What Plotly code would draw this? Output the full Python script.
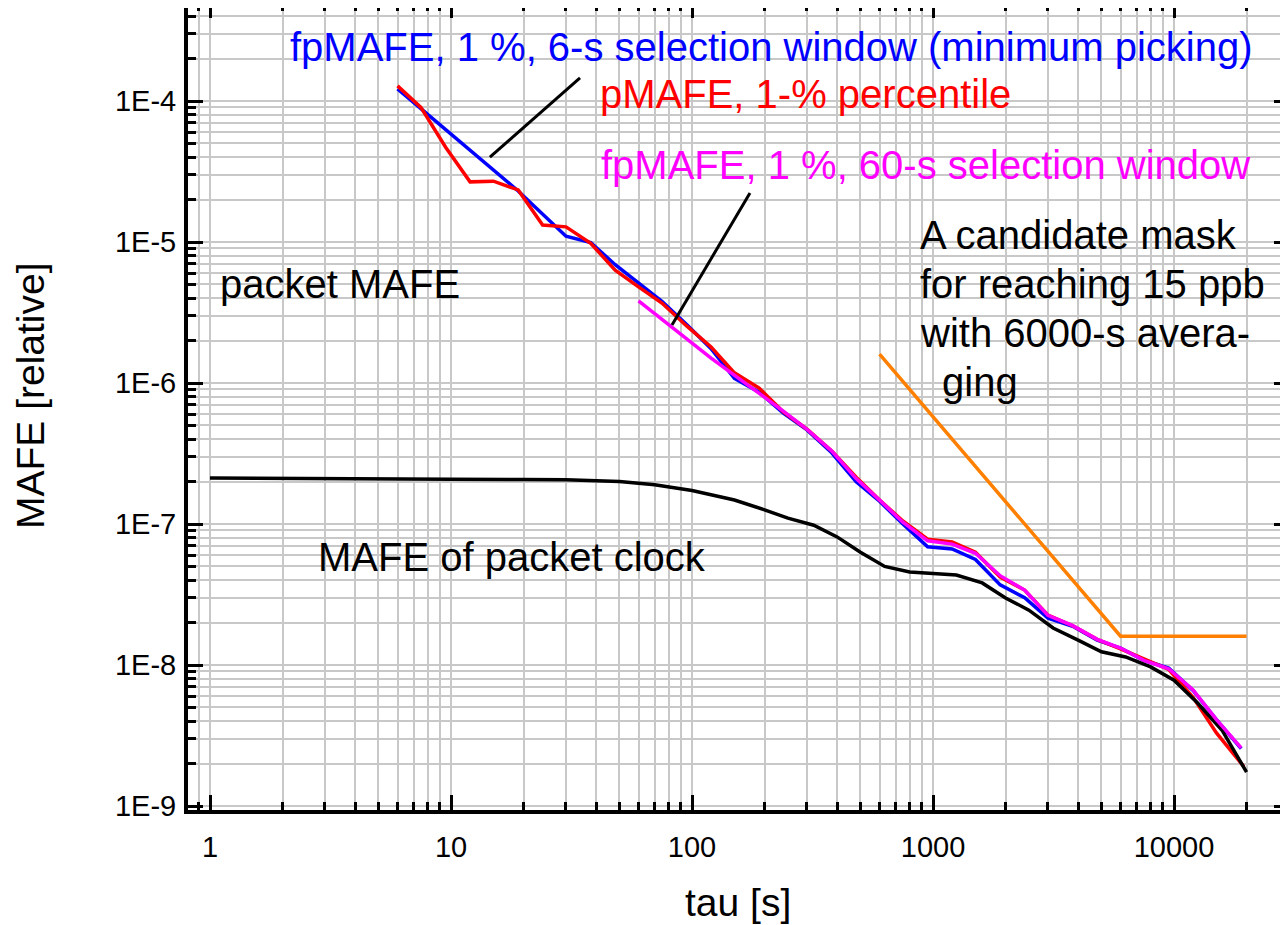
import plotly.graph_objects as go

# ---------------- data ----------------
tau_clock = [1, 2, 5, 10, 20, 30, 50, 70, 100, 150, 200, 250, 320, 400, 500, 630, 800,
             1000, 1250, 1600, 2000, 2500, 3150, 4000, 5000, 6300, 8000, 10000, 12500, 15800, 20000]
mafe_clock = [2.12e-7, 2.10e-7, 2.09e-7, 2.08e-7, 2.07e-7, 2.06e-7, 2.0e-7, 1.9e-7, 1.73e-7, 1.48e-7,
              1.26e-7, 1.10e-7, 9.8e-8, 8.1e-8, 6.3e-8, 5.0e-8, 4.57e-8, 4.45e-8, 4.35e-8, 3.82e-8,
              2.99e-8, 2.45e-8, 1.83e-8, 1.50e-8, 1.24e-8, 1.14e-8, 9.7e-9, 7.8e-9, 5.4e-9, 3.46e-9, 1.74e-9]

tau_red = [6, 7.5, 9.5, 12, 15, 19, 24, 30, 38, 48, 60, 75, 95, 120, 150, 190, 240, 300, 380, 480,
           600, 750, 950, 1200, 1500, 1900, 2400, 3000, 3800, 4800, 6000, 7500, 9500, 12000, 15000, 19500]
mafe_red = [1.28e-4, 9.0e-5, 4.7e-5, 2.67e-5, 2.7e-5, 2.34e-5, 1.32e-5, 1.28e-5, 9.8e-6, 6.3e-6,
            4.8e-6, 3.69e-6, 2.54e-6, 1.8e-6, 1.18e-6, 9.2e-7, 6.2e-7, 4.7e-7, 3.3e-7, 2.15e-7,
            1.48e-7, 1.05e-7, 7.8e-8, 7.45e-8, 6.3e-8, 4.2e-8, 3.4e-8, 2.26e-8, 1.9e-8, 1.52e-8,
            1.3e-8, 1.1e-8, 9.3e-9, 5.9e-9, 3.3e-9, 1.9e-9]

tau_blue = [6, 19, 30, 38, 48, 60, 75, 95, 120, 150, 190, 240, 300, 380, 480, 600, 750, 950,
            1200, 1500, 1900, 2400, 3000, 3800, 4800, 6000, 7500, 9500, 12000, 15000, 19000]
mafe_blue = [1.22e-4, 2.3e-5, 1.10e-5, 9.9e-6, 6.9e-6, 5.1e-6, 3.8e-6, 2.6e-6, 1.75e-6, 1.08e-6,
             8.6e-7, 6.1e-7, 4.65e-7, 3.2e-7, 1.99e-7, 1.45e-7, 1.0e-7, 6.9e-8, 6.65e-8, 5.6e-8,
             3.7e-8, 3.0e-8, 2.15e-8, 1.88e-8, 1.5e-8, 1.32e-8, 1.08e-8, 9.5e-9, 6.6e-9, 4.1e-9, 2.55e-9]

tau_mag = [60, 120, 240, 300, 380, 480, 600, 750, 950, 1200, 1500, 1900, 2400, 3000, 3800, 4800,
           6000, 7500, 9500, 12000, 15000, 19000]
mafe_mag = [3.82e-6, 1.5e-6, 6.3e-7, 4.7e-7, 3.3e-7, 2.1e-7, 1.48e-7, 1.03e-7, 7.6e-8, 7.2e-8,
            6.2e-8, 4.3e-8, 3.4e-8, 2.25e-8, 1.9e-8, 1.52e-8, 1.32e-8, 1.08e-8, 9.4e-9, 6.65e-9,
            4.1e-9, 2.58e-9]

tau_mask = [600, 6000, 20000]
mafe_mask = [1.6e-6, 1.6e-8, 1.6e-8]

# pointer lines of the labels
ptr1_tau = [34.3, 14.5]
ptr1_val = [1.46e-4, 4.0e-5]
ptr2_tau = [174, 82.6]
ptr2_val = [2.23e-5, 2.58e-6]

x_tickvals = [1, 10, 100, 1000, 10000]
x_ticktext = ["1", "10", "100", "1000", "10000"]
y_tickvals = [1e-9, 1e-8, 1e-7, 1e-6, 1e-5, 1e-4]
y_ticktext = ["1E-9", "1E-8", "1E-7", "1E-6", "1E-5", "1E-4"]

# ---------------- layout geometry ----------------
W, H = 1280, 925
L, R, T, B = 188, 0, 8, 115
PW, PH = W - L - R, H - T - B
DEC_X, DEC_Y = 241.0, 141.0
X1_PX, YM4_PX = 210.0, 101.0
xr = [-(X1_PX - L) / DEC_X, (W - R - X1_PX) / DEC_X]
yr = [-4 - (H - B - YM4_PX) / DEC_Y, -4 + (YM4_PX - T) / DEC_Y]

FONT = "Liberation Sans, Arial, Helvetica, sans-serif"
GRID = "#c8c8c8"


def pxx(x):
    return (x - L) / PW


def pxy(y):
    return (H - B - y) / PH


fig = go.Figure()

lw = 3.5
fig.add_trace(go.Scatter(x=tau_blue, y=mafe_blue, mode="lines", line=dict(color="#0000ff", width=lw)))
fig.add_trace(go.Scatter(x=tau_red, y=mafe_red, mode="lines", line=dict(color="#ff0000", width=lw)))
fig.add_trace(go.Scatter(x=tau_clock, y=mafe_clock, mode="lines", line=dict(color="#000000", width=lw)))
fig.add_trace(go.Scatter(x=tau_mag, y=mafe_mag, mode="lines", line=dict(color="#ff00ff", width=lw)))
fig.add_trace(go.Scatter(x=tau_mask, y=mafe_mask, mode="lines", line=dict(color="#ff8000", width=lw)))
fig.add_trace(go.Scatter(x=ptr1_tau, y=ptr1_val, mode="lines", line=dict(color="#000000", width=3)))
fig.add_trace(go.Scatter(x=ptr2_tau, y=ptr2_val, mode="lines", line=dict(color="#000000", width=3)))
# carriers for the mirrored top / right tick axes
fig.add_trace(go.Scatter(x=[None], y=[None], xaxis="x2", yaxis="y", hoverinfo="skip"))
fig.add_trace(go.Scatter(x=[None], y=[None], xaxis="x", yaxis="y2", hoverinfo="skip"))

tickfont = dict(family=FONT, size=29, color="black")

fig.update_layout(
    width=W, height=H, margin=dict(l=L, r=R, t=T, b=B, autoexpand=False),
    paper_bgcolor="white", plot_bgcolor="white", showlegend=False,
    xaxis=dict(type="log", range=xr, tickmode="array", tickvals=x_tickvals, ticktext=x_ticktext,
               ticks="inside", ticklen=15, tickwidth=3, tickcolor="black",
               showline=True, linewidth=4, linecolor="black", mirror=False,
               showgrid=True, gridcolor=GRID, gridwidth=1.5, zeroline=False,
               tickfont=tickfont, ticklabelstandoff=8,
               minor=dict(dtick="D1", ticks="inside", ticklen=8, tickwidth=3, tickcolor="black",
                          showgrid=True, gridcolor=GRID, gridwidth=1.5)),
    yaxis=dict(type="log", range=yr, tickmode="array", tickvals=y_tickvals, ticktext=y_ticktext,
               ticks="inside", ticklen=15, tickwidth=3, tickcolor="black",
               showline=True, linewidth=4, linecolor="black", mirror=False,
               showgrid=True, gridcolor=GRID, gridwidth=1.5, zeroline=False,
               tickfont=tickfont, ticklabelstandoff=2,
               minor=dict(dtick="D1", ticks="inside", ticklen=8, tickwidth=3, tickcolor="black",
                          showgrid=True, gridcolor=GRID, gridwidth=1.5)),
    xaxis2=dict(type="log", range=xr, overlaying="x", side="top", anchor="y",
                tickmode="array", tickvals=x_tickvals, showticklabels=False,
                ticks="inside", ticklen=10, tickwidth=3, tickcolor="black",
                showline=False, showgrid=False, zeroline=False,
                minor=dict(dtick="D1", ticks="inside", ticklen=3, tickwidth=3, tickcolor="black",
                           showgrid=False)),
    yaxis2=dict(type="log", range=yr, overlaying="y", side="right", anchor="x",
                tickmode="array", tickvals=y_tickvals, showticklabels=False,
                ticks="inside", ticklen=6, tickwidth=3, tickcolor="black",
                showline=False, showgrid=False, zeroline=False),
)

labels = [
    ("fpMAFE, 1 %, 6-s selection window (minimum picking)", "#0000ff", 288, 47),
    ("pMAFE, 1-% percentile", "#ff0000", 598, 94),
    ("fpMAFE, 1 %, 60-s selection window", "#ff00ff", 599, 165),
    ("packet MAFE", "black", 218, 284),
    ("MAFE of packet clock", "black", 316, 557),
    ("A candidate mask", "black", 918, 235),
    ("for reaching 15 ppb", "black", 918, 284),
    ("with 6000-s avera-", "black", 918, 333),
    ("ging", "black", 940, 382),
]
for text, color, x, y in labels:
    fig.add_annotation(text=text, xref="paper", yref="paper", x=pxx(x), y=pxy(y),
                       xanchor="left", yanchor="middle", showarrow=False,
                       font=dict(family=FONT, size=40, color=color))

fig.add_annotation(text="tau [s]", xref="paper", yref="paper", x=pxx(738), y=pxy(902),
                   xanchor="center", yanchor="middle", showarrow=False,
                   font=dict(family=FONT, size=39, color="black"))
fig.add_annotation(text="MAFE [relative]", xref="paper", yref="paper", x=pxx(30), y=pxy(395),
                   xanchor="center", yanchor="middle", showarrow=False, textangle=-90,
                   font=dict(family=FONT, size=39, color="black"))

fig.write_html("out.html")
